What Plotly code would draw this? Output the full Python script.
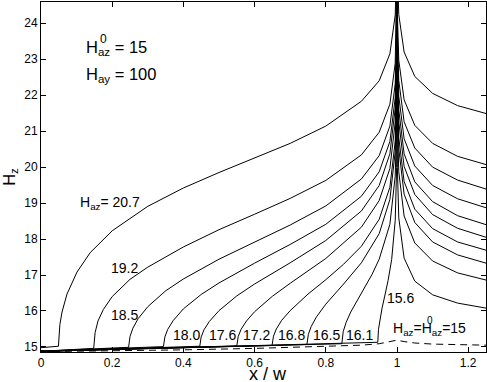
import plotly.graph_objects as go

# H_z profiles across the strip, one curve per applied field H_az
x_207 = [0, 0.025, 0.045, 0.049, 0.053, 0.059, 0.073, 0.101, 0.138, 0.2, 0.3, 0.4, 0.5, 0.6, 0.7, 0.8, 0.9, 0.95, 0.98, 0.995, 0.999, 1.0,
         1.001, 1.005, 1.02, 1.05, 1.1, 1.17, 1.25]
y_207 = [14.98, 14.99, 15.0, 15.02, 15.62, 15.97, 16.47, 17.08, 17.62, 18.23, 18.91, 19.42, 19.85, 20.26, 20.66, 21.14, 21.83, 22.40, 23.15, 24.23, 25.47, 26,
         25.48, 24.24, 23.2, 22.52, 22.05, 21.71, 21.49]

x_192 = [0, 0.07, 0.148, 0.152, 0.16, 0.175, 0.2, 0.25, 0.3, 0.4, 0.5, 0.6, 0.7, 0.8, 0.9, 0.95, 0.98, 0.995, 0.999, 1.0,
         1.001, 1.005, 1.02, 1.05, 1.1, 1.17, 1.25]
y_192 = [14.88, 14.92, 14.96, 15.40, 15.72, 16.04, 16.40, 16.88, 17.22, 17.78, 18.26, 18.69, 19.13, 19.63, 20.34, 20.97, 21.75, 22.89, 24.20, 26,
         24.27, 22.97, 21.87, 21.16, 20.66, 20.30, 20.07]

x_185 = [0, 0.12, 0.246, 0.25, 0.258, 0.273, 0.3, 0.35, 0.4, 0.5, 0.6, 0.7, 0.8, 0.9, 0.95, 0.98, 0.995, 0.999, 1.0,
         1.001, 1.005, 1.02, 1.05, 1.1, 1.17, 1.25]
y_185 = [14.88, 14.93, 14.99, 15.29, 15.52, 15.79, 16.12, 16.56, 16.89, 17.44, 17.92, 18.39, 18.92, 19.67, 20.32, 21.14, 22.32, 23.68, 26,
         23.76, 22.41, 21.26, 20.53, 20.00, 19.64, 19.39]

x_180 = [0, 0.17, 0.344, 0.348, 0.356, 0.371, 0.4, 0.45, 0.5, 0.6, 0.7, 0.8, 0.9, 0.95, 0.98, 0.995, 0.999, 1.0,
         1.001, 1.005, 1.02, 1.05, 1.1, 1.17, 1.25]
y_180 = [14.88, 14.94, 15.01, 15.28, 15.49, 15.73, 16.06, 16.46, 16.78, 17.33, 17.85, 18.41, 19.19, 19.87, 20.71, 21.93, 23.33, 26,
         23.36, 21.97, 20.79, 20.03, 19.49, 19.12, 18.87]

x_176 = [0, 0.22, 0.446, 0.45, 0.458, 0.473, 0.5, 0.55, 0.6, 0.7, 0.8, 0.9, 0.95, 0.98, 0.995, 0.999, 1.0,
         1.001, 1.005, 1.02, 1.05, 1.1, 1.17, 1.25]
y_176 = [14.88, 14.95, 15.02, 15.28, 15.48, 15.71, 16.01, 16.42, 16.75, 17.34, 17.96, 18.78, 19.49, 20.37, 21.64, 23.09, 26,
         23.03, 21.59, 20.37, 19.59, 19.04, 18.65, 18.40]

x_172 = [0, 0.27, 0.55, 0.554, 0.562, 0.577, 0.6, 0.65, 0.7, 0.8, 0.9, 0.95, 0.98, 0.995, 0.999, 1.0,
         1.001, 1.005, 1.02, 1.05, 1.1, 1.17, 1.25]
y_172 = [14.88, 14.96, 15.03, 15.29, 15.49, 15.72, 15.98, 16.41, 16.77, 17.46, 18.33, 19.07, 19.96, 21.25, 22.73, 26,
         22.72, 21.26, 20.02, 19.24, 18.68, 18.30, 18.05]

x_168 = [0, 0.32, 0.649, 0.653, 0.661, 0.676, 0.7, 0.75, 0.8, 0.85, 0.9, 0.95, 0.98, 0.995, 0.999, 1.0,
         1.001, 1.005, 1.02, 1.05, 1.1, 1.17, 1.25]
y_168 = [14.88, 14.96, 15.04, 15.30, 15.50, 15.74, 16.01, 16.47, 16.87, 17.30, 17.80, 18.55, 19.44, 20.72, 22.18, 26,
         22.26, 20.82, 19.60, 18.83, 18.29, 17.92, 17.69]

x_165 = [0, 0.37, 0.747, 0.751, 0.759, 0.774, 0.8, 0.85, 0.9, 0.95, 0.98, 0.995, 0.999, 1.0,
         1.001, 1.005, 1.02, 1.05, 1.1, 1.17, 1.25]
y_165 = [14.88, 14.97, 15.07, 15.35, 15.57, 15.84, 16.19, 16.75, 17.34, 18.15, 19.10, 20.43, 21.95, 26,
         22.01, 20.51, 19.25, 18.46, 17.92, 17.56, 17.33]

x_161 = [0, 0.42, 0.845, 0.849, 0.857, 0.87, 0.9, 0.93, 0.95, 0.98, 0.995, 0.999, 1.0,
         1.001, 1.005, 1.02, 1.05, 1.1, 1.17, 1.25]
y_161 = [14.88, 14.98, 15.09, 15.43, 15.68, 15.97, 16.50, 17.02, 17.44, 18.41, 19.75, 21.25, 26,
         21.33, 19.87, 18.64, 17.89, 17.39, 17.06, 16.86]

x_156 = [0, 0.47, 0.946, 0.948, 0.952, 0.958, 0.965, 0.975, 0.985, 0.995, 0.999, 1.0,
         1.001, 1.005, 1.02, 1.05, 1.1, 1.17, 1.25]
y_156 = [14.88, 15.0, 15.13, 15.49, 15.77, 16.08, 16.39, 16.85, 17.43, 18.52, 19.99, 26,
         19.99, 18.59, 17.47, 16.83, 16.45, 16.22, 16.08]

# initial state H_az = H0_az = 15 (dashed)
x_150 = [0, 0.2, 0.4, 0.6, 0.8, 0.9, 0.95, 0.98, 1.0, 1.02, 1.05, 1.1, 1.17, 1.25]
y_150 = [14.87, 14.89, 14.92, 14.96, 15.01, 15.05, 15.09, 15.14, 15.19, 15.15, 15.11, 15.08, 15.06, 15.05]

curves = [(x_207, y_207), (x_192, y_192), (x_185, y_185), (x_180, y_180), (x_176, y_176),
          (x_172, y_172), (x_168, y_168), (x_165, y_165), (x_161, y_161), (x_156, y_156)]

# curve labels: text, x, y
label_text = ["19.2", "18.5", "18.0", "17.6", "17.2", "16.8", "16.5", "16.1", "15.6"]
label_x = [0.235, 0.234, 0.408, 0.509, 0.604, 0.703, 0.801, 0.896, 1.011]
label_y = [17.19, 15.88, 15.32, 15.32, 15.33, 15.33, 15.33, 15.33, 16.35]

x_ticks = [0, 0.2, 0.4, 0.6, 0.8, 1.0, 1.2]
x_ticktext = ["0", "0.2", "0.4", "0.6", "0.8", "1", "1.2"]
y_ticks = [15, 16, 17, 18, 19, 20, 21, 22, 23, 24]

FONT = "Liberation Sans, Arial, Helvetica, sans-serif"


def text_font(size):
    return dict(size=size, family=FONT, color="black")


fig = go.Figure()
for cx, cy in curves:
    fig.add_trace(go.Scatter(x=cx, y=cy, mode="lines",
                             line=dict(color="black", width=1), hoverinfo="skip"))
fig.add_trace(go.Scatter(x=x_150, y=y_150, mode="lines",
                         line=dict(color="black", width=1, dash="7px,5px"), hoverinfo="skip"))

for t, lx, ly in zip(label_text, label_x, label_y):
    fig.add_annotation(x=lx, y=ly, text=t, showarrow=False, font=text_font(14))

fig.add_annotation(x=0.104, y=19.0, text="H<sub>az</sub>= 20.7", showarrow=False,
                   xanchor="left", font=text_font(14))

# H_az = H0_az = 15 : the "0" is stacked over the subscript like the original
fig.add_annotation(x=0.982, y=15.5, text="H<sub>az</sub>=H<sub>az</sub>=15", showarrow=False,
                   xanchor="left", font=text_font(14))
fig.add_annotation(x=1.079, y=15.74, text="0", showarrow=False,
                   xanchor="left", font=text_font(10))

fig.add_annotation(x=0.122, y=23.3, text="H<sub>az</sub> = 15", showarrow=False,
                   xanchor="left", font=text_font(16.5))
fig.add_annotation(x=0.159, y=23.56, text="0", showarrow=False,
                   xanchor="left", font=text_font(12))
fig.add_annotation(x=0.122, y=22.55, text="H<sub>ay</sub> = 100", showarrow=False,
                   xanchor="left", font=text_font(16.5))

# x title as an annotation so it sits right under the tick labels
fig.add_annotation(xref="paper", yref="paper", x=0.509, y=-0.062, text="x / w", showarrow=False,
                   xanchor="center", yanchor="middle", font=text_font(18))

axis_style = dict(showline=True, linecolor="black", linewidth=1, mirror="ticks",
                  ticks="inside", ticklen=5, tickcolor="black", showgrid=False, zeroline=False,
                  tickfont=text_font(12))

fig.update_xaxes(range=[0, 1.25], tickvals=x_ticks, ticktext=x_ticktext,
                 automargin=False, **axis_style)
fig.update_yaxes(range=[14.86, 24.59], tickvals=y_ticks,
                 title=dict(text="H<sub>z</sub>", font=text_font(16.5), standoff=4),
                 automargin=False, **axis_style)

fig.update_layout(width=487, height=382, margin=dict(l=41, r=1, t=2, b=30),
                  plot_bgcolor="white", paper_bgcolor="white", showlegend=False,
                  font=dict(family=FONT, color="black"))

# drop the browser's default body margin so the figure sits at the page corner
fig.write_html("out.html", config={"displayModeBar": False},
               post_script="document.body.style.margin='0';")
